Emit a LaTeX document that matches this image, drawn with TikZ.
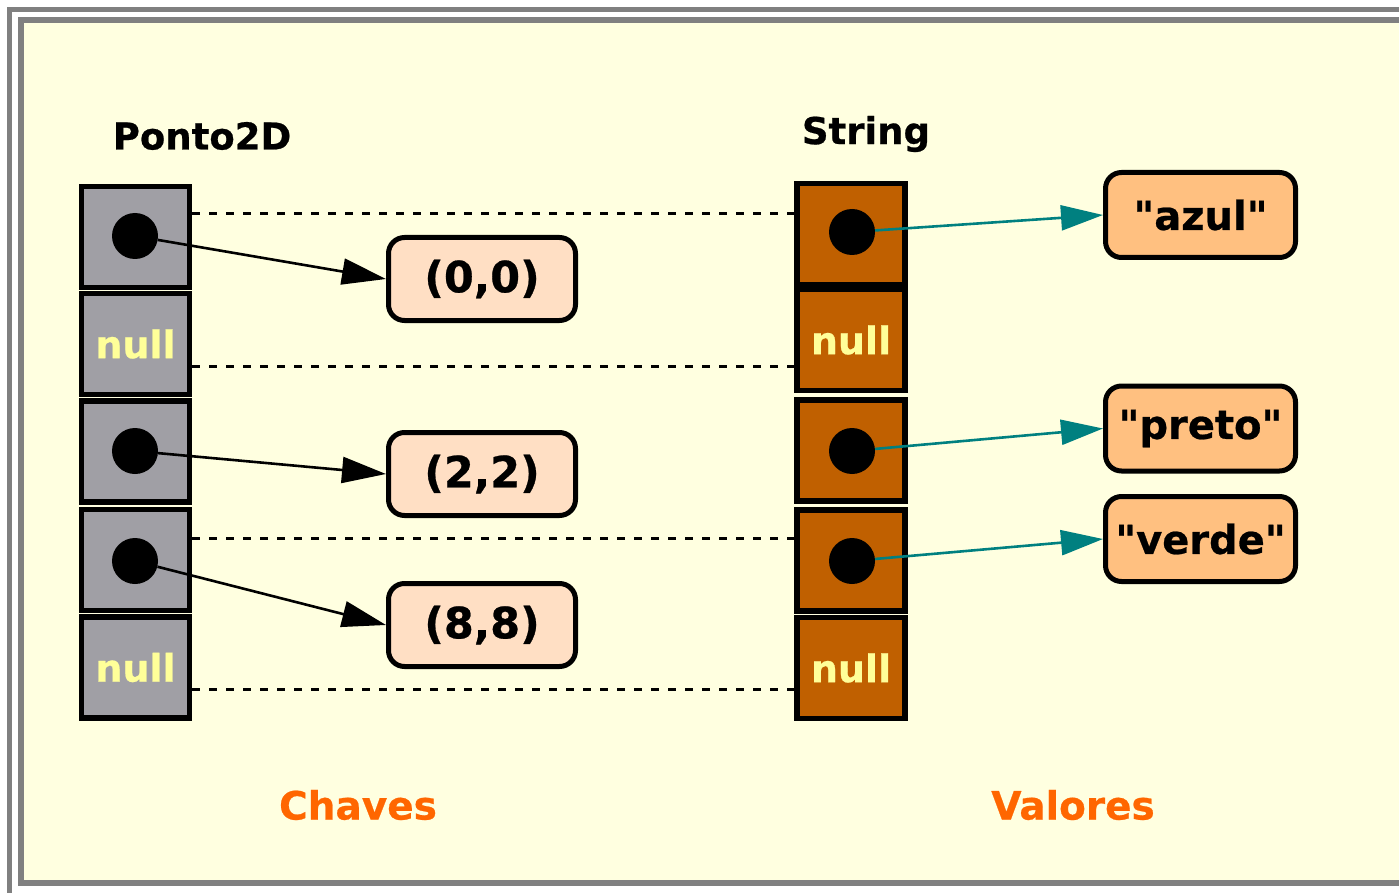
\documentclass[tikz,border=0pt]{standalone}
\usepackage{fontspec}
\setmainfont{DejaVu Sans}[BoldFeatures={FakeBold=0.6}]
\usetikzlibrary{arrows.meta}
\definecolor{bgyellow}{RGB}{255,255,224}
\definecolor{framegray}{RGB}{128,128,128}
\definecolor{keygray}{RGB}{160,159,165}
\definecolor{valbrown}{RGB}{192,96,0}
\definecolor{nullyellow}{RGB}{255,255,153}
\definecolor{peach}{RGB}{255,223,196}
\definecolor{lightorange}{RGB}{255,192,128}
\definecolor{labelorange}{RGB}{255,102,0}
\definecolor{tealc}{RGB}{0,128,128}
\tikzset{
  cell/.style={draw=black, line width=5.5pt, minimum width=108pt, minimum height=101pt, inner sep=0pt, font=\bfseries\fontsize{38}{40}\selectfont, text=nullyellow},
  keycell/.style={cell, fill=keygray},
  valcell/.style={cell, fill=valbrown},
  dot/.style={circle, fill=black, minimum size=46pt, inner sep=0pt},
  tuplebox/.style={draw=black, line width=5pt, rounded corners=16pt, fill=peach, minimum width=187pt, minimum height=83pt, font=\bfseries\fontsize{43}{45}\selectfont},
  strbox/.style={draw=black, line width=5pt, rounded corners=16pt, fill=lightorange, minimum width=190pt, minimum height=85pt, font=\bfseries\fontsize{40}{42}\selectfont},
  title/.style={font=\bfseries\fontsize{37}{39}\selectfont},
  caption/.style={font=\bfseries\fontsize{39}{41}\selectfont, text=labelorange},
  dashline/.style={draw=black, line width=3pt, dash pattern=on 8pt off 9pt},
  keyarrow/.style={draw=black, line width=2.6pt, -{Triangle[length=44pt,width=26pt]}},
  valarrow/.style={draw=tealc, line width=2.6pt, -{Triangle[length=42pt,width=25pt]}, color=tealc}
}
\newcommand{\qq}[1]{\textquotedbl#1\textquotedbl}
\begin{document}
\begin{tikzpicture}[x=1pt,y=-1pt]
\useasboundingbox (0,0) rectangle (1399,893);
\fill[white] (0,0) rectangle (1399,893);
% frames
\draw[framegray, line width=5pt] (9.5,9.5) rectangle (1430,930);
\fill[bgyellow] (21,20) rectangle (1425,883);
\draw[framegray, line width=6pt] (21,20) rectangle (1425,883);

% titles
\node[title] (tk) at (202,136) {Ponto2D};
\node[title] (tv) at (866,134) {String};

% key cells
\node[keycell] (k1) at (135.5,237) {};
\node[keycell] (k2) at (135.5,344) {null};
\node[keycell] (k3) at (135.5,451.5) {};
\node[keycell] (k4) at (135.5,560) {};
\node[keycell] (k5) at (135.5,667.5) {null};

% value cells
\node[valcell] (v1) at (851,234) {};
\node[valcell] (v2) at (851,340) {null};
\node[valcell] (v3) at (851,450.5) {};
\node[valcell] (v4) at (851,560.5) {};
\node[valcell] (v5) at (851,668) {null};

% dots
\node[dot] (kd1) at (135,236) {};
\node[dot] (kd3) at (135,451) {};
\node[dot] (kd4) at (135,561) {};
\node[dot] (vd1) at (852,232) {};
\node[dot] (vd3) at (852,451) {};
\node[dot] (vd4) at (852,561) {};

% tuple boxes
\node[tuplebox] (p1) at (482,279) {(0,0)};
\node[tuplebox] (p2) at (482,474) {(2,2)};
\node[tuplebox] (p3) at (482,625) {(8,8)};

% string boxes
\node[strbox] (s1) at (1200.5,215) {\qq{azul}};
\node[strbox] (s2) at (1200.5,428.5) {\qq{preto}};
\node[strbox] (s3) at (1200.5,539) {\qq{verde}};

% dashed lines
\draw[dashline] (k1.east |- 0,214) -- (v1.west |- 0,214);
\draw[dashline] (k2.east |- 0,366) -- (v2.west |- 0,366);
\draw[dashline] (k4.east |- 0,538) -- (v4.west |- 0,538);
\draw[dashline] (k5.east |- 0,689) -- (v5.west |- 0,689);

% key arrows
\draw[keyarrow] (kd1) -- (p1.west);
\draw[keyarrow] (kd3) -- (p2.west);
\draw[keyarrow] (kd4) -- (p3.west);

% value arrows
\draw[valarrow] (vd1) -- (s1.west);
\draw[valarrow] (vd3) -- (s2.west);
\draw[valarrow] (vd4) -- (s3.west);

% captions
\node[caption] (ck) at (358,805) {Chaves};
\node[caption] (cv) at (1073,805) {Valores};
\end{tikzpicture}
\end{document}
